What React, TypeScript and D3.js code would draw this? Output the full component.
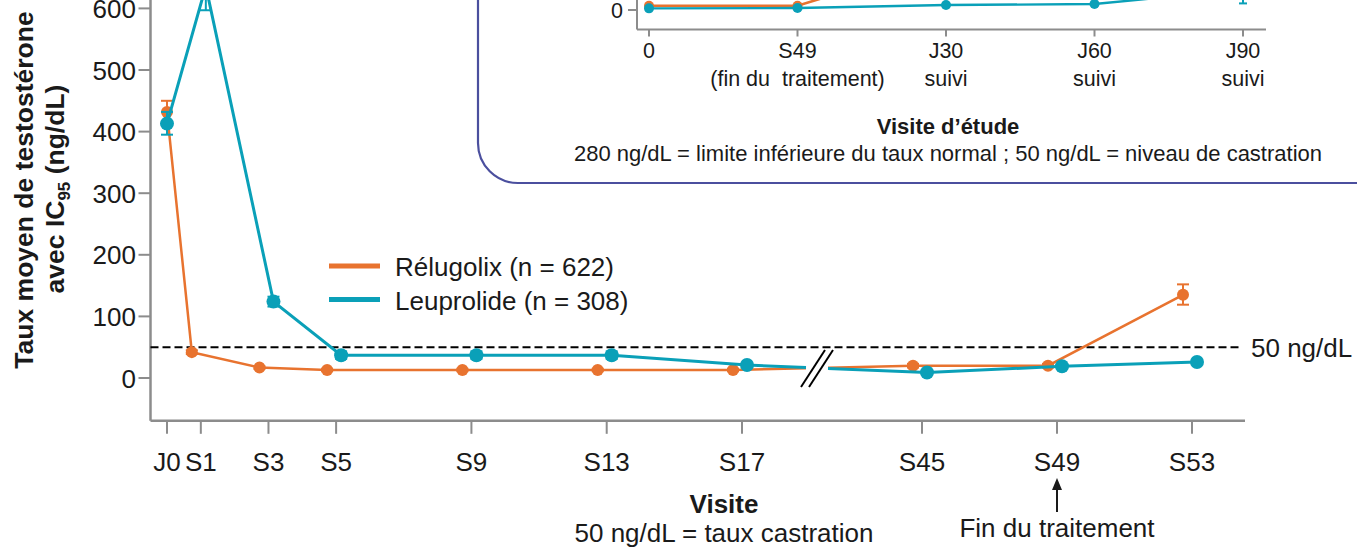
import React from "react";
import * as d3 from "d3";

// Visits on the main timeline and their study week
const visits = ["J0", "S1", "S3", "S5", "S9", "S13", "S17", "S45", "S49", "S53"];
const visitWeeks = [0, 1, 3, 5, 9, 13, 17, 45, 49, 53];

// Mean testosterone (ng/dL) with 95% CI
const relugolixMean = [432, 42, 17, 13, 13, 13, 13, 20, 20, 135];
const relugolixLow = [414, 39, 15, 11, 11, 11, 11, 17, 17, 119];
const relugolixHigh = [450, 45, 19, 15, 15, 15, 15, 23, 23, 152];

const leuprolideMean = [413, 636, 124, 37, 37, 37, 21, 9, 19, 26];
const leuprolideLow = [395, 597, 116, 31, 31, 31, 18, 7, 16, 23];
const leuprolideHigh = [432, 675, 132, 43, 43, 43, 24, 11, 22, 29];

const yTicks = [0, 100, 200, 300, 400, 500, 600];
const castrationLevel = 50;

// Follow-up panel
const insetVisits = ["0", "S49", "J30", "J60", "J90"];
const insetSubLabels = ["", "(fin du  traitement)", "suivi", "suivi", "suivi"];
const insetRelugolix = [13, 13, 150, 250, 300];
const insetLeuprolide = [5, 6, 15, 18, 62];
const insetLeuprolideLow = [4, 5, 13, 16, 20];
const insetLeuprolideHigh = [6, 7, 17, 20, 104];
const insetYTicks = [0];

const ORANGE = "#E8732F";
const TEAL = "#0AA0B8";
const AXIS = "#8c8c8c";
const INK = "#1a1a1a";
const FONT = "'Liberation Sans', Arial, sans-serif";

const W = 1357;
const H = 548;
const FS = 26; // main text size
const IFS = 21.5; // follow-up panel text size

type Series = {
  name: string;
  color: string;
  mean: number[];
  low: number[];
  high: number[];
  dodge: number;
  r: number;
  width: number;
};

const series: Series[] = [
  { name: "Rélugolix (n = 622)", color: ORANGE, mean: relugolixMean, low: relugolixLow, high: relugolixHigh, dodge: -9, r: 6, width: 2.5 },
  { name: "Leuprolide (n = 308)", color: TEAL, mean: leuprolideMean, low: leuprolideLow, high: leuprolideHigh, dodge: 5, r: 7, width: 3 },
];

export default function App() {
  // Main panel scales: a broken time axis (S17 … S45)
  const x = d3.scaleLinear().domain([0, 17, 45, 53]).range([167, 742, 922, 1192]);
  const y = d3.scaleLinear().domain([0, 600]).range([378, 8.4]);
  const axisLeft = 150.5;
  const axisBottom = y(-69.5);
  const axisRight = 1245;
  const breakX = 817;
  const gap: [number, number] = [806, 828];

  const px = (s: Series, i: number) => x(visitWeeks[i]) + (i === 0 ? 0 : s.dodge);
  const line = d3.line<[number, number]>().x((d) => d[0]).y((d) => d[1]);

  const pathsFor = (s: Series) => {
    const pts: [number, number][] = s.mean.map((v, i) => [px(s, i), y(v)]);
    const before = pts.slice(0, 7);
    const after = pts.slice(7);
    const a = pts[6];
    const b = pts[7];
    const lerp = (gx: number): [number, number] => [gx, a[1] + ((b[1] - a[1]) * (gx - a[0])) / (b[0] - a[0])];
    return [
      line([...before, lerp(gap[0])]) as string,
      line([lerp(gap[1]), ...after]) as string,
    ];
  };

  // Inset scales
  const ix = d3.scalePoint<string>().domain(insetVisits).range([649, 1243]);
  const iy = d3.scaleLinear().domain([0, 100]).range([10, -23]);
  const insetAxisX = 637;
  const insetAxisY = 29.5;
  const insetRight = 1266;

  const arrowX = x(49);

  return (
    <div style={{ position: "absolute", left: 0, top: 0, width: W, height: H, overflow: "hidden", background: "#fff" }}>
      <svg width={W} height={H} style={{ display: "block", fontFamily: FONT }}>
        {/* Follow-up panel frame */}
        <path
          d={`M478,-20 V143 A40,40 0 0 0 518,183 H${W + 20}`}
          fill="none"
          stroke="#4B4F9E"
          strokeWidth={2.2}
        />

        {/* Follow-up panel axes */}
        <g>
          <line x1={insetAxisX} x2={insetAxisX} y1={-40} y2={insetAxisY} stroke={AXIS} strokeWidth={2} />
          <line x1={insetAxisX} x2={insetRight} y1={insetAxisY} y2={insetAxisY} stroke={AXIS} strokeWidth={2} />
          {insetYTicks.map((t) => (
            <g key={t}>
              <line x1={insetAxisX - 9} x2={insetAxisX} y1={iy(t)} y2={iy(t)} stroke={AXIS} strokeWidth={2} />
              <text x={insetAxisX - 14} y={iy(t) + 7.5} fontSize={IFS} textAnchor="end" fill={INK}>{t}</text>
            </g>
          ))}
          {insetVisits.map((v, i) => (
            <g key={v}>
              <line x1={ix(v)!} x2={ix(v)!} y1={insetAxisY} y2={insetAxisY + 7} stroke={AXIS} strokeWidth={2} />
              <text x={ix(v)!} y={58} fontSize={IFS} textAnchor="middle" fill={INK}>{v}</text>
              {insetSubLabels[i] && (
                <text x={ix(v)!} y={86} fontSize={IFS} textAnchor="middle" fill={INK} style={{ whiteSpace: "pre" }}>{insetSubLabels[i]}</text>
              )}
            </g>
          ))}
          <text x={948} y={134} fontSize={22} fontWeight="bold" textAnchor="middle" fill={INK}>Visite d’étude</text>
          <text x={948} y={161} fontSize={22} textAnchor="middle" fill={INK}>
            280 ng/dL = limite inférieure du taux normal ; 50 ng/dL = niveau de castration
          </text>

          <path
            d={line(insetRelugolix.map((v, i) => [ix(insetVisits[i])!, iy(v)] as [number, number])) as string}
            fill="none" stroke={ORANGE} strokeWidth={2.6}
          />
          {insetRelugolix.map((v, i) => (
            <circle key={i} cx={ix(insetVisits[i])!} cy={iy(v)} r={5} fill={ORANGE} />
          ))}
          <path
            d={line(insetLeuprolide.map((v, i) => [ix(insetVisits[i])!, iy(v)] as [number, number])) as string}
            fill="none" stroke={TEAL} strokeWidth={2.4}
          />
          {insetLeuprolide.map((v, i) => {
            const cx = ix(insetVisits[i])!;
            return (
              <g key={i}>
                <line x1={cx} x2={cx} y1={iy(insetLeuprolideLow[i])} y2={iy(insetLeuprolideHigh[i])} stroke={TEAL} strokeWidth={2} />
                <line x1={cx - 4} x2={cx + 4} y1={iy(insetLeuprolideLow[i])} y2={iy(insetLeuprolideLow[i])} stroke={TEAL} strokeWidth={2} />
                <circle cx={cx} cy={iy(v)} r={5} fill={TEAL} />
              </g>
            );
          })}
        </g>

        {/* Main panel axes */}
        <line x1={axisLeft} x2={axisLeft} y1={-40} y2={axisBottom} stroke={AXIS} strokeWidth={2.5} />
        <line x1={axisLeft} x2={axisRight} y1={axisBottom} y2={axisBottom} stroke={AXIS} strokeWidth={2.5} />
        {yTicks.map((t) => (
          <g key={t}>
            <line x1={axisLeft - 12} x2={axisLeft} y1={y(t)} y2={y(t)} stroke={AXIS} strokeWidth={2} />
            <text x={136} y={y(t) + 9.5} fontSize={FS} textAnchor="end" fill={INK}>{t}</text>
          </g>
        ))}
        {visits.map((v, i) => (
          <g key={v}>
            <line x1={x(visitWeeks[i])} x2={x(visitWeeks[i])} y1={axisBottom} y2={axisBottom + 13} stroke={AXIS} strokeWidth={2} />
            <text x={x(visitWeeks[i])} y={471} fontSize={FS} textAnchor="middle" fill={INK}>{v}</text>
          </g>
        ))}

        {/* Y axis title */}
        <text transform="translate(33,190) rotate(-90)" fontSize={26.5} fontWeight="bold" textAnchor="middle" fill={INK}>
          Taux moyen de testostérone
        </text>
        <text transform="translate(64,189) rotate(-90)" fontSize={26.5} fontWeight="bold" textAnchor="middle" fill={INK}>
          avec IC<tspan fontSize={17} dy={6}>95</tspan><tspan dy={-6}> (ng/dL)</tspan>
        </text>

        {/* X axis title and note */}
        <text x={724} y={513} fontSize={FS} fontWeight="bold" textAnchor="middle" fill={INK}>Visite</text>
        <text x={724} y={542} fontSize={FS} textAnchor="middle" fill={INK}>50 ng/dL = taux castration</text>

        {/* End of treatment marker */}
        <line x1={arrowX} x2={arrowX} y1={512} y2={486} stroke={INK} strokeWidth={2} />
        <path d={`M${arrowX - 5},${490} L${arrowX},${478} L${arrowX + 5},${490} Z`} fill={INK} />
        <text x={arrowX} y={537} fontSize={FS} textAnchor="middle" fill={INK}>Fin du traitement</text>

        {/* Castration threshold */}
        <line x1={axisLeft} x2={1240} y1={y(castrationLevel)} y2={y(castrationLevel)} stroke="#000" strokeWidth={2} strokeDasharray="8 4" />
        <text x={1251} y={y(castrationLevel) + 10} fontSize={FS} fill={INK}>50 ng/dL</text>

        {/* Series */}
        {series.map((s) => {
          const [p1, p2] = pathsFor(s);
          return (
            <g key={s.name}>
              <path d={p1} fill="none" stroke={s.color} strokeWidth={s.width} />
              <path d={p2} fill="none" stroke={s.color} strokeWidth={s.width} />
              {s.mean.map((v, i) => {
                const cx = px(s, i);
                return (
                  <g key={i}>
                    <line x1={cx} x2={cx} y1={y(s.low[i])} y2={y(s.high[i])} stroke={s.color} strokeWidth={2} />
                    <line x1={cx - 6} x2={cx + 6} y1={y(s.low[i])} y2={y(s.low[i])} stroke={s.color} strokeWidth={2} />
                    <line x1={cx - 6} x2={cx + 6} y1={y(s.high[i])} y2={y(s.high[i])} stroke={s.color} strokeWidth={2} />
                    <circle cx={cx} cy={y(v)} r={s.r} fill={s.color} />
                  </g>
                );
              })}
            </g>
          );
        })}

        {/* Axis break marks */}
        <line x1={breakX - 16} y1={387} x2={breakX + 8} y2={350} stroke="#000" strokeWidth={2} />
        <line x1={breakX - 8} y1={387} x2={breakX + 16} y2={350} stroke="#000" strokeWidth={2} />

        {/* Legend */}
        {series.map((s, i) => (
          <g key={s.name}>
            <line x1={329} x2={380} y1={266 + i * 33.5} y2={266 + i * 33.5} stroke={s.color} strokeWidth={5} />
            <text x={395} y={276 + i * 33.5} fontSize={FS} fill={INK}>{s.name}</text>
          </g>
        ))}
      </svg>
    </div>
  );
}
